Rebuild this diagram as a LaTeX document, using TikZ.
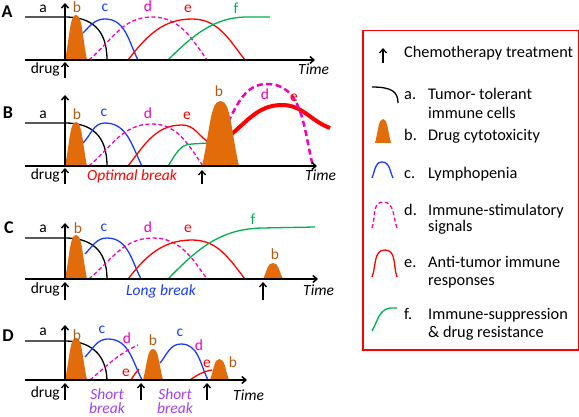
\documentclass[tikz,border=0pt]{standalone}
\usepackage{fontspec}
\setmainfont{Carlito}
\usetikzlibrary{arrows.meta}
\definecolor{dorange}{HTML}{E36C0A}
\definecolor{dbrown}{HTML}{B05A14}
\definecolor{cblue}{HTML}{1A3CFF}
\definecolor{cmag}{HTML}{F000C0}
\definecolor{cred}{HTML}{FF0000}
\definecolor{cgreen}{HTML}{00B050}
\definecolor{cpurple}{HTML}{A040F0}
\newcommand\cytobump[4]{%
  \fill[dorange] (#1,#3) .. controls ({#1+0.22*((#2)-(#1))},{#3+0.55*((#4)-(#3))}) and ({#1+0.22*((#2)-(#1))},#4) .. ({((#1)+(#2))/2},#4)
   .. controls ({#2-0.22*((#2)-(#1))},#4) and ({#2-0.22*((#2)-(#1))},{#3+0.55*((#4)-(#3))}) .. (#2,#3) -- cycle;}
\tikzset{
  axisln/.style={line width=1.5pt,-{Straight Barb[length=4pt,width=7pt]}},
  drugarr/.style={line width=1.3pt,-{Straight Barb[length=4pt,width=7pt]}},
  crv/.style={line width=1.3pt},
  acrv/.style={crv,black},
  ccrv/.style={crv,cblue},
  dcrv/.style={crv,cmag,dash pattern=on 4pt off 2.5pt},
  ecrv/.style={crv,cred},
  fcrv/.style={crv,cgreen},
  txt/.style={font=\fontsize{15.5}{17}\selectfont,inner sep=0pt},
  lbl/.style={txt,anchor=base},
  lgd/.style={inner sep=0pt,font=\fontsize{16.3}{18}\selectfont,anchor=base west},
  panel/.style={font=\fontsize{18}{20}\selectfont\bfseries,inner sep=0pt,anchor=base},
  brk/.style={txt,anchor=base,font=\fontsize{15.5}{17}\selectfont\itshape},
}
\begin{document}
\begin{tikzpicture}[x=1pt,y=1pt]
\useasboundingbox (0,0) rectangle (579,-417);
% ===== Panel A =====
\node[panel] (pA) at (7,-18) {A};
\draw[acrv] (25,-17) -- (65,-17) .. controls (90,-17) and (107,-28) .. (107,-60);
\draw[ccrv] (83,-33) to[out=45,in=180] (105,-19) to[out=0,in=117] (138,-60);
\draw[dcrv] (89,-60) to[out=40,in=180] (152,-17) to[out=0,in=125] (207,-60);
\draw[ecrv] (128,-60) to[out=52,in=180] (192,-19) to[out=0,in=128] (245,-60);
\draw[fcrv] (168,-60) .. controls (195,-33) and (215,-18) .. (245,-17) -- (270,-17);
\cytobump{65}{87}{-60}{-15}
\draw[axisln] (25,-60) -- (315,-60);
\draw[axisln] (65,-60) -- (65,-3);
\draw[drugarr] (65,-78) -- (65,-62);
\node[lbl] (aA) at (43,-13) {a};
\node[lbl,text=dbrown] (bA) at (77,-13) {b};
\node[lbl,text=cblue] (cA) at (105,-12) {c};
\node[lbl,text=cmag] (dA) at (148,-12) {d};
\node[lbl,text=cred] (eA) at (188,-13) {e};
\node[lbl,text=cgreen] (fA) at (236,-14) {f};
\node[lbl,anchor=base east] (drA) at (60,-74) {drug};
\node[brk,anchor=base west] (tA) at (298,-75) {Time};
% ===== Panel B =====
\node[panel] (pB) at (8,-119) {B};
\draw[acrv] (25,-123) -- (65,-123) .. controls (90,-123) and (107,-134) .. (107,-166);
\draw[ccrv] (83,-143) to[out=45,in=180] (105,-123) to[out=0,in=117] (142,-166);
\draw[dcrv] (89,-166) to[out=40,in=180] (152,-124) to[out=0,in=125] (203,-166);
\draw[ecrv] (128,-166) to[out=52,in=180] (182,-125) to[out=0,in=145] (208,-142);
\draw[fcrv] (168,-166) to[out=55,in=180] (192,-144) -- (208,-143);
\draw[cred,line width=4pt] (228,-137) to[out=38,in=180] (282,-105) to[out=0,in=160] (330,-128);
\draw[cmag,line width=2.5pt,dash pattern=on 6pt off 3.5pt] (228,-122) to[out=62,in=180] (267,-84) to[out=0,in=105] (313,-166);
\cytobump{65}{87}{-166}{-122}
\cytobump{202}{239}{-166}{-101}
\draw[axisln] (25,-166) -- (317,-166);
\draw[axisln] (65,-166) -- (65,-95);
\draw[drugarr] (65,-184) -- (65,-168);
\draw[drugarr] (202,-184) -- (202,-170);
\node[lbl] (aB) at (43,-119) {a};
\node[lbl,text=dbrown] (bB) at (77,-120) {b};
\node[lbl,text=cblue] (cB) at (104,-117) {c};
\node[lbl,text=cmag] (dB) at (148,-119) {d};
\node[lbl,text=cred] (eB) at (187,-120) {e};
\node[lbl,text=dbrown] (bB2) at (219,-97) {b};
\node[lbl,text=cmag] (dB2) at (265,-100) {d};
\node[lbl,text=cred] (eB2) at (294,-102) {e};
\node[lbl,anchor=base east] (drB) at (60,-180) {drug};
\node[brk,text=cred] (obB) at (132,-181) {Optimal break};
\node[brk,anchor=base west] (tB) at (305,-181) {Time};
% ===== Panel C =====
\node[panel] (pC) at (9,-234) {C};
\draw[acrv] (25,-238) -- (65,-238) .. controls (90,-238) and (107,-249) .. (107,-279);
\draw[ccrv] (85,-254) to[out=45,in=180] (107,-238) to[out=0,in=117] (141,-279);
\draw[dcrv] (89,-279) to[out=40,in=180] (153,-238) to[out=0,in=125] (207,-279);
\draw[ecrv] (128,-279) to[out=52,in=180] (192,-240) to[out=0,in=128] (245,-279);
\draw[fcrv] (168,-279) .. controls (200,-246) and (222,-229) .. (262,-228) -- (315,-227);
\cytobump{65}{87}{-279}{-235}
\cytobump{263}{283}{-279}{-263}
\draw[axisln] (25,-279) -- (318,-279);
\draw[axisln] (65,-279) -- (65,-223);
\draw[drugarr] (65,-300) -- (65,-282);
\draw[drugarr] (263,-300) -- (263,-282);
\node[lbl] (aC) at (43,-233) {a};
\node[lbl,text=dbrown] (bC) at (78,-234) {b};
\node[lbl,text=cblue] (cC) at (104,-232) {c};
\node[lbl,text=cmag] (dC) at (148,-233) {d};
\node[lbl,text=cred] (eC) at (188,-233) {e};
\node[lbl,text=cgreen] (fC) at (253,-225) {f};
\node[lbl,text=dbrown] (bC2) at (275,-260) {b};
\node[lbl,anchor=base east] (drC) at (60,-293) {drug};
\node[brk,text=cblue] (lbC) at (161,-295) {Long break};
\node[brk,anchor=base west] (tC) at (303,-295) {Time};
% ===== Panel D =====
\node[panel] (pD) at (8,-341) {D};
\draw[acrv] (25,-341) -- (65,-341) .. controls (88,-341) and (106,-352) .. (107,-380);
\draw[ccrv] (85,-357) to[out=45,in=180] (108,-339) to[out=0,in=117] (142,-380);
\draw[dcrv] (90,-380) to[out=40,in=205] (138,-345);
\draw[ecrv] (131,-380) to[out=60,in=230] (139,-369);
\draw[ccrv] (160,-363) to[out=50,in=180] (181,-344) to[out=0,in=117] (208,-380);
\draw[ecrv] (190,-380) to[out=35,in=190] (212,-370);
\cytobump{65}{87}{-380}{-338}
\cytobump{143}{163}{-380}{-349}
\cytobump{210}{229}{-380}{-359}
\draw[axisln] (25,-380) -- (247,-380);
\draw[axisln] (65,-380) -- (65,-325);
\draw[drugarr] (65,-400) -- (65,-383);
\draw[drugarr] (141,-400) -- (141,-383);
\draw[drugarr] (207,-400) -- (207,-383);
\node[lbl] (aD) at (43,-335) {a};
\node[lbl,text=dbrown] (bD) at (77,-340) {b};
\node[lbl,text=cblue] (cD) at (102,-333) {c};
\node[lbl,text=cmag] (dD) at (127,-343) {d};
\node[lbl,text=cred] (eD) at (126,-376) {e};
\node[lbl,text=dbrown] (bD2) at (153,-345) {b};
\node[lbl,text=cblue] (cD2) at (180,-336) {c};
\node[lbl,text=cmag] (dD2) at (199,-350) {d};
\node[lbl,text=cred] (eD2) at (207,-367) {e};
\node[lbl,text=dbrown] (bD3) at (233,-367) {b};
\node[lbl,anchor=base east] (drD) at (60,-397) {drug};
\node[brk,text=cpurple] (sD1) at (107,-399) {Short};
\node[brk,text=cpurple] (kD1) at (107,-413) {break};
\node[brk,text=cpurple] (sD2) at (175,-399) {Short};
\node[brk,text=cpurple] (kD2) at (175,-413) {break};
\node[brk,anchor=base west] (tD) at (233,-400) {Time};
% ===== Legend =====
\node[draw=cred,line width=1.5pt,minimum width=216pt,minimum height=319pt,anchor=north west,inner sep=0pt] (leg) at (362,-30) {};
\draw[drugarr] (383,-63) -- (383,-48);
\node[lgd] (l0) at (404,-58) {Chemotherapy treatment};
\draw[acrv] (372,-87) .. controls (392,-87) and (398,-92) .. (398,-103);
\node[lgd] (la) at (404,-100) {a.};
\node[lgd] (la1) at (428,-100) {Tumor- tolerant};
\node[lgd] (la2) at (428,-119) {immune cells};
\cytobump{375}{391}{-143}{-119}
\node[lgd] (lb) at (404,-141) {b.};
\node[lgd] (lb1) at (428,-141) {Drug cytotoxicity};
\draw[ccrv] (372,-178) to[out=65,in=180] (382,-162) to[out=0,in=115] (393,-178);
\node[lgd] (lc) at (404,-179) {c.};
\node[lgd] (lc1) at (428,-179) {Lymphopenia};
\draw[dcrv] (372,-228) to[out=70,in=180] (383,-202) to[out=0,in=110] (397,-228);
\node[lgd] (ld) at (404,-215) {d.};
\node[lgd] (ld1) at (428,-215) {Immune-stimulatory};
\node[lgd] (ld2) at (428,-232) {signals};
\draw[ecrv] (372,-277) to[out=68,in=180] (385,-250) to[out=0,in=110] (397,-277);
\node[lgd] (le) at (404,-268) {e.};
\node[lgd] (le1) at (428,-268) {Anti-tumor immune};
\node[lgd] (le2) at (428,-285) {responses};
\draw[fcrv] (372,-331) to[out=60,in=190] (390,-308) -- (397,-308);
\node[lgd] (lf) at (404,-319) {f.};
\node[lgd] (lf1) at (428,-319) {Immune-suppression};
\node[lgd] (lf2) at (428,-337) {\& drug resistance};
\end{tikzpicture}
\end{document}
